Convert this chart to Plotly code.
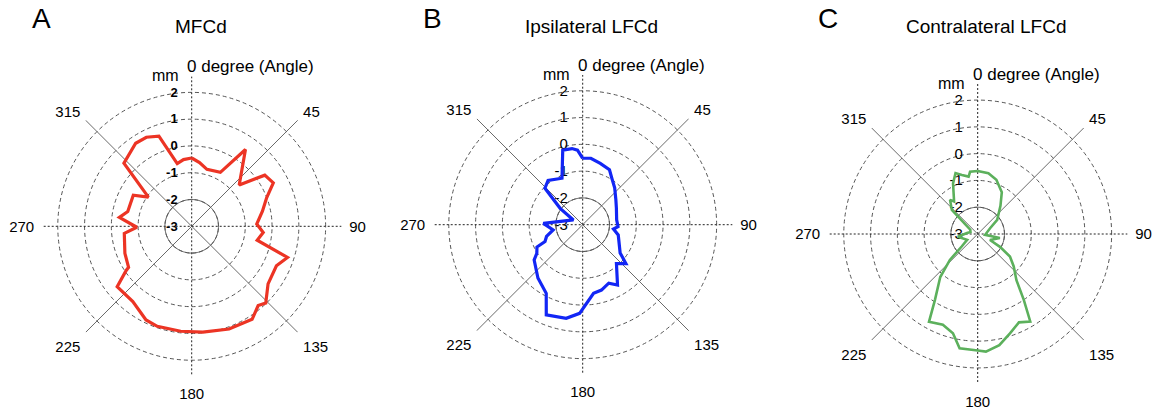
import plotly.graph_objects as go

# ---------------- data ----------------
mfcd_theta = [0, 7, 15, 28, 35, 49, 55, 62, 69, 78, 88, 95, 102, 108, 115, 127, 136, 140, 147,
              160, 174, 186, 199, 206, 218, 231, 236, 237, 248, 264, 269, 277, 283, 298, 304,
              313, 326, 333, 340, 347, 353, 360]
mfcd_r = [-0.45, -0.6, -0.8, -0.72, 0.5, -0.65, 0.33, 0.45, 0.0, -0.3, -0.57, -0.32, -0.5, 0.76,
          0.49, 0.57, 0.98, 0.86, 1.14, 1.08, 0.97, 0.94, 0.95, 0.89, 0.57, 0.58, -0.05, -0.19,
          -0.31, -0.47, -0.95, -0.28, -0.55, -0.53, -1.05, 0.46, 0.74, 0.73, 0.58, -0.6, -0.49,
          -0.45]

ipsi_theta = [0, 7, 16, 26, 33, 41, 53, 64, 82, 93, 98, 106, 112, 127, 132, 139, 150, 156, 164,
              171, 182, 190, 202, 208, 220, 234, 238, 244, 246, 252, 260, 272, 297, 306, 314, 322,
              336, 345, 352, 356, 360]
ipsi_r = [-0.52, -0.5, -0.62, -0.72, -0.98, -1.18, -1.45, -1.6, -1.72, -1.68, -1.84, -1.62, -1.55,
          -1.25, -0.83, -1.08, -0.4, -0.61, -0.46, -0.41, 0.31, 0.55, 0.63, -0.1, -0.4, -0.76,
          -0.98, -1.1, -1.46, -1.58, -1.88, -1.53, -2.61, -1.96, -1.04, -0.9, -1.1, -0.12, -0.13,
          -0.21, -0.52]

contra_theta = [0, 10, 19, 30, 39, 54, 65, 96, 100, 116, 120, 125, 132, 140, 145, 149, 155, 162,
                169, 176, 180, 189, 194, 201, 209, 213, 221, 227, 232, 241, 262, 275, 285, 300,
                313, 321, 324, 334, 340, 345, 351, 353, 360]
contra_r = [-0.65, -0.7, -0.86, -1.2, -1.65, -2.1, -2.49, -2.72, -2.16, -2.49, -2.04, -1.53, -1.19,
            -0.75, 0.0, 0.81, 0.64, 0.9, 1.23, 1.4, 1.35, 1.32, 0.82, 0.63, 0.75, -0.07, -0.87,
            -1.58, -2.24, -2.55, -2.25, -2.6, -2.72, -2.68, -1.68, -1.36, -1.5, -0.9, -0.58,
            -0.72, -0.83, -0.66, -0.65]

panel_letters = ["A", "B", "C"]
panel_titles = ["MFCd", "Ipsilateral LFCd", "Contralateral LFCd"]
angle_ticks = [0, 45, 90, 135, 180, 225, 270, 315]
angle_text = ["", "45", "90", "135", "180", "225", "270", "315"]
radial_ticks = [-3, -2, -1, 0, 1, 2]
radial_text = ["-3", "-2", "-1", "0", "1", "2"]

series = [(mfcd_theta, mfcd_r, "rgb(236,52,36)", 3.2),
          (ipsi_theta, ipsi_r, "rgb(18,38,245)", 3.2),
          (contra_theta, contra_r, "rgb(92,176,92)", 2.6)]

# ---------------- layout geometry ----------------
W, H = 1163, 416
RMIN, RMAX = -3, 2.6
HALF = 150  # px radius of each polar area
centers = [(191.7, 226.3), (582.7, 224.7), (977.7, 234.0)]  # px from top-left
FONT = "Liberation Sans, Arial, sans-serif"

fig = go.Figure()
annotations = []


def px(x, y):
    return x / W, 1 - y / H


for i, ((th, rr, col, lw), (cx, cy)) in enumerate(zip(series, centers)):
    pid = "polar" if i == 0 else f"polar{i+1}"
    common = dict(subplot=pid, showlegend=False, hoverinfo="skip")
    # main spokes (dotted)
    fig.add_trace(go.Scatterpolar(r=[RMAX, RMIN, RMAX], theta=[0, 0, 180], mode="lines",
                                  line=dict(color="#222", width=1, dash="2px,2px"), **common))
    fig.add_trace(go.Scatterpolar(r=[RMAX, RMIN, RMAX], theta=[90, 90, 270], mode="lines",
                                  line=dict(color="#222", width=1, dash="2px,2px"), **common))
    # diagonal spokes (solid)
    fig.add_trace(go.Scatterpolar(r=[RMAX, RMIN, RMAX], theta=[45, 45, 225], mode="lines",
                                  line=dict(color="#444", width=0.8), **common))
    fig.add_trace(go.Scatterpolar(r=[RMAX, RMIN, RMAX], theta=[135, 135, 315], mode="lines",
                                  line=dict(color="#444", width=0.8), **common))
    # solid inner circle at -2
    circ_t = list(range(0, 361, 3))
    fig.add_trace(go.Scatterpolar(r=[-2] * len(circ_t), theta=circ_t, mode="lines",
                                  line=dict(color="#555", width=0.9), **common))
    # data
    fig.add_trace(go.Scatterpolar(r=rr, theta=th, mode="lines",
                                  line=dict(color=col, width=lw), **common))

    x0, x1 = (cx - HALF) / W, (cx + HALF) / W
    y0, y1 = 1 - (cy + HALF) / H, 1 - (cy - HALF) / H
    bold = i == 0
    fig.update_layout({pid: dict(
        domain=dict(x=[x0, x1], y=[y0, y1]),
        bgcolor="white",
        radialaxis=dict(range=[RMIN, RMAX], tickvals=radial_ticks, ticktext=radial_text,
                        angle=90, side="counterclockwise", tickangle=90, showline=False,
                        ticks="outside", ticklen=9,
                        tickcolor="rgba(0,0,0,0)", showgrid=True, gridcolor="#555",
                        gridwidth=0.8, griddash="4px,3px", layer="below traces",
                        tickfont=dict(family=FONT, size=13 if bold else 15, color="black",
                                      weight="bold" if bold else "normal")),
        angularaxis=dict(rotation=90, direction="clockwise", tickvals=angle_ticks,
                         ticktext=angle_text, showgrid=False, showline=False, ticks="outside",
                         ticklen=4, tickcolor="rgba(0,0,0,0)",
                         tickfont=dict(family=FONT, size=15, color="black")),
    )})

    annotations += [
        dict(text=panel_letters[i], x=px(cx - 150, 0)[0], y=px(0, 19)[1], xanchor="center",
             yanchor="middle", font=dict(family=FONT, size=28, color="black")),
        dict(text=panel_titles[i], x=px(cx + 9, 0)[0], y=px(0, 27)[1], xanchor="center",
             yanchor="middle", font=dict(family=FONT, size=19, color="black")),
        dict(text="0 degree (Angle)", x=px(cx - 7, 0)[0], y=px(0, cy - 159.5)[1],
             xanchor="left", yanchor="middle", font=dict(family=FONT, size=17, color="black")),
        dict(text="mm", x=px(cx - 26, 0)[0], y=px(0, cy - 150.5)[1], xanchor="center",
             yanchor="middle", font=dict(family=FONT, size=16, color="black")),
    ]

for a in annotations:
    a.update(xref="paper", yref="paper", showarrow=False)

fig.update_layout(width=W, height=H, margin=dict(l=0, r=0, t=0, b=0),
                  paper_bgcolor="white", plot_bgcolor="white", annotations=annotations,
                  font=dict(family=FONT, color="black"))

fig.write_html("out.html", config={"displayModeBar": False},
               post_script="document.body.style.margin='0';")
